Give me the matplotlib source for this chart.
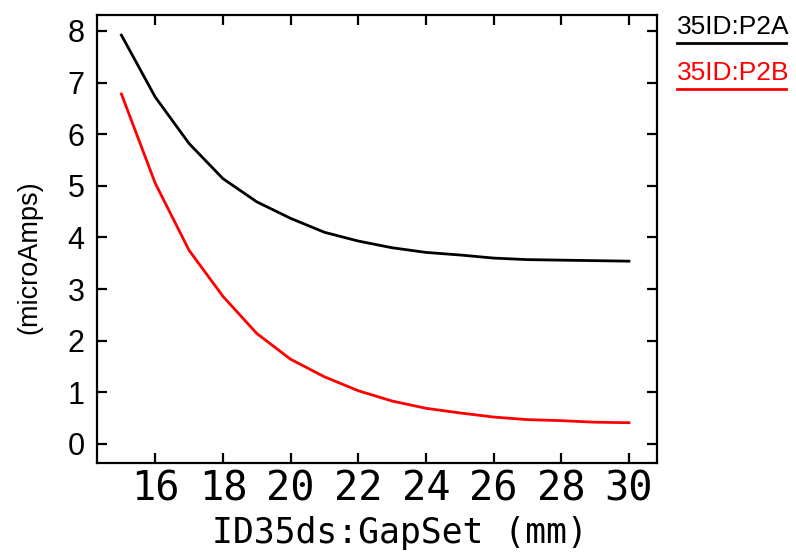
import matplotlib
matplotlib.use('Agg')

import matplotlib.pyplot as plt
from matplotlib.lines import Line2D

# gap setting (mm) and the two current readings (microAmps)
gap = [15, 16, 17, 18, 19, 20, 21, 22, 23, 24, 25, 26, 27, 28, 29, 30]
p2a = [7.92, 6.72, 5.82, 5.14, 4.69, 4.37, 4.10, 3.93, 3.80, 3.71,
       3.66, 3.60, 3.57, 3.56, 3.55, 3.54]
p2b = [6.78, 5.05, 3.75, 2.86, 2.14, 1.64, 1.30, 1.03, 0.83, 0.69,
       0.60, 0.52, 0.47, 0.45, 0.42, 0.41]

series_names = ["35ID:P2A", "35ID:P2B"]
series_colors = ["black", "red"]

xticks = [16, 18, 20, 22, 24, 26, 28, 30]
yticks = [0, 1, 2, 3, 4, 5, 6, 7, 8]

fig = plt.figure(figsize=(7.96, 5.57), dpi=100)
ax = fig.add_axes([0.1219, 0.1688, 0.7035, 0.8043])

for vals, col in zip([p2a, p2b], series_colors):
    ax.plot(gap, vals, color=col, lw=2)

ax.set_xlim(14.28, 30.83)
ax.set_ylim(-0.37, 8.31)
ax.set_xticks(xticks)
ax.set_yticks(yticks)

for sp in ax.spines.values():
    sp.set_linewidth(1.6)

ax.tick_params(direction='in', top=True, right=True, length=7, width=1.6)
ax.tick_params(axis='y', labelsize=22, pad=9)
ax.tick_params(axis='x', labelsize=29, pad=4.5)
for lab in ax.get_xticklabels():
    lab.set_family('DejaVu Sans Mono')
for lab in ax.get_yticklabels():
    lab.set_family('Liberation Sans')

ax.set_xlabel("ID35ds:GapSet (mm)", family='DejaVu Sans Mono', fontsize=25)
ax.xaxis.set_label_coords(0.541, -0.118)
ax.set_ylabel("(microAmps)", family='Liberation Sans', fontsize=19.5)
ax.yaxis.set_label_coords(-0.098, 0.46)

# legend to the right, underlined names
for i, (name, col) in enumerate(zip(series_names, series_colors)):
    ty = 0.951 - i * 0.082
    fig.text(0.8505, ty, name, color=col, fontsize=19, family='Liberation Sans',
             va='center', ha='left')
    uy = ty - 0.028
    fig.add_artist(Line2D([0.8505, 0.9874], [uy, uy], color=col, lw=2,
                          transform=fig.transFigure))

fig.savefig("out.png", dpi=100)
